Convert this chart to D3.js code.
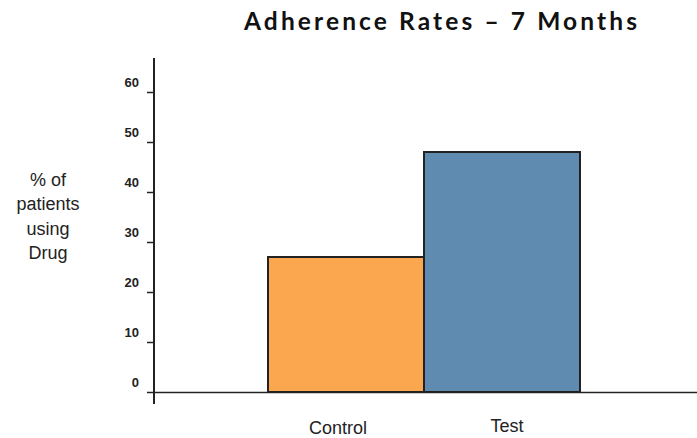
<!DOCTYPE html>
<html>
<head>
<meta charset="utf-8">
<script src="https://cdn.jsdelivr.net/npm/d3@7"></script>
<style>
  body { margin: 0; background: #fff; }
</style>
</head>
<body>
<div id="chart"></div>
<script>
var categories = ["Control", "Test"];
var values = [27, 48];
var colors = ["#FBA74F", "#5F8BB0"];
var yTicks = [0, 10, 20, 30, 40, 50, 60];
var titleText = "Adherence Rates \u2013 7 Months";
var yLabelLines = ["% of", "patients", "using", "Drug"];

var width = 697,
    height = 438;

var svg = d3.select("#chart")
    .append("svg")
    .attr("width", width)
    .attr("height", height);

var x = d3.scaleBand()
    .domain(categories)
    .range([268, 580])
    .padding(0);

var y = d3.scaleLinear()
    .domain([0, 60])
    .range([392, 92]);

// title
svg.append("text")
    .attr("x", 244)
    .attr("y", 30)
    .attr("textLength", 393)
    .attr("lengthAdjust", "spacing")
    .style("font-family", "Lato, sans-serif")
    .style("font-weight", "bold")
    .style("font-size", "24.5px")
    .style("fill", "#111")
    .text(titleText);

// y label
svg.append("g")
    .selectAll("text")
    .data(yLabelLines)
    .enter()
    .append("text")
    .attr("x", 48)
    .attr("y", function(d, i){ return 186 + i * 24.4; })
    .attr("text-anchor", "middle")
    .style("font-family", "'Liberation Sans', Arial, sans-serif")
    .style("font-size", "18px")
    .style("fill", "#222")
    .text(function(d){ return d; });

// bars
svg.append("g")
    .selectAll("rect")
    .data(categories)
    .enter()
    .append("rect")
    .attr("x", function(d){ return x(d); })
    .attr("y", function(d, i){ return y(values[i]); })
    .attr("width", x.bandwidth())
    .attr("height", function(d, i){ return y(0) - y(values[i]); })
    .attr("fill", function(d, i){ return colors[i]; })
    .style("stroke", "#222")
    .style("stroke-width", 2);

// x axis line
svg.append("line")
    .attr("x1", 154).attr("x2", 697)
    .attr("y1", y(0) + 0.5).attr("y2", y(0) + 0.5)
    .style("stroke", "#222")
    .style("stroke-width", 1.5);

// y axis
var yAxis = svg.append("g")
    .attr("transform", "translate(154,0)")
    .call(d3.axisLeft(y).tickValues(yTicks).tickSize(7).tickPadding(0));

yAxis.select(".domain").remove();
yAxis.selectAll(".tick line").style("stroke", "#222").style("stroke-width", 1.5);
yAxis.selectAll(".tick text")
    .attr("x", -15)
    .attr("dy", "-0.4em")
    .style("font-family", "'Liberation Sans', Arial, sans-serif")
    .style("font-weight", "bold")
    .style("font-size", "13px")
    .style("fill", "#222");

svg.append("line")
    .attr("x1", 154).attr("x2", 154)
    .attr("y1", 58).attr("y2", 404)
    .style("stroke", "#222")
    .style("stroke-width", 2);

// category labels
var labelOffsets = [-8, 5];
var labelBaselines = [434, 432];
svg.append("g")
    .selectAll("text")
    .data(categories)
    .enter()
    .append("text")
    .attr("x", function(d, i){ return x(d) + x.bandwidth() / 2 + labelOffsets[i]; })
    .attr("y", function(d, i){ return labelBaselines[i]; })
    .attr("text-anchor", "middle")
    .style("font-family", "'Liberation Sans', Arial, sans-serif")
    .style("font-size", "18px")
    .style("fill", "#222")
    .text(function(d){ return d; });
</script>
</body>
</html>
